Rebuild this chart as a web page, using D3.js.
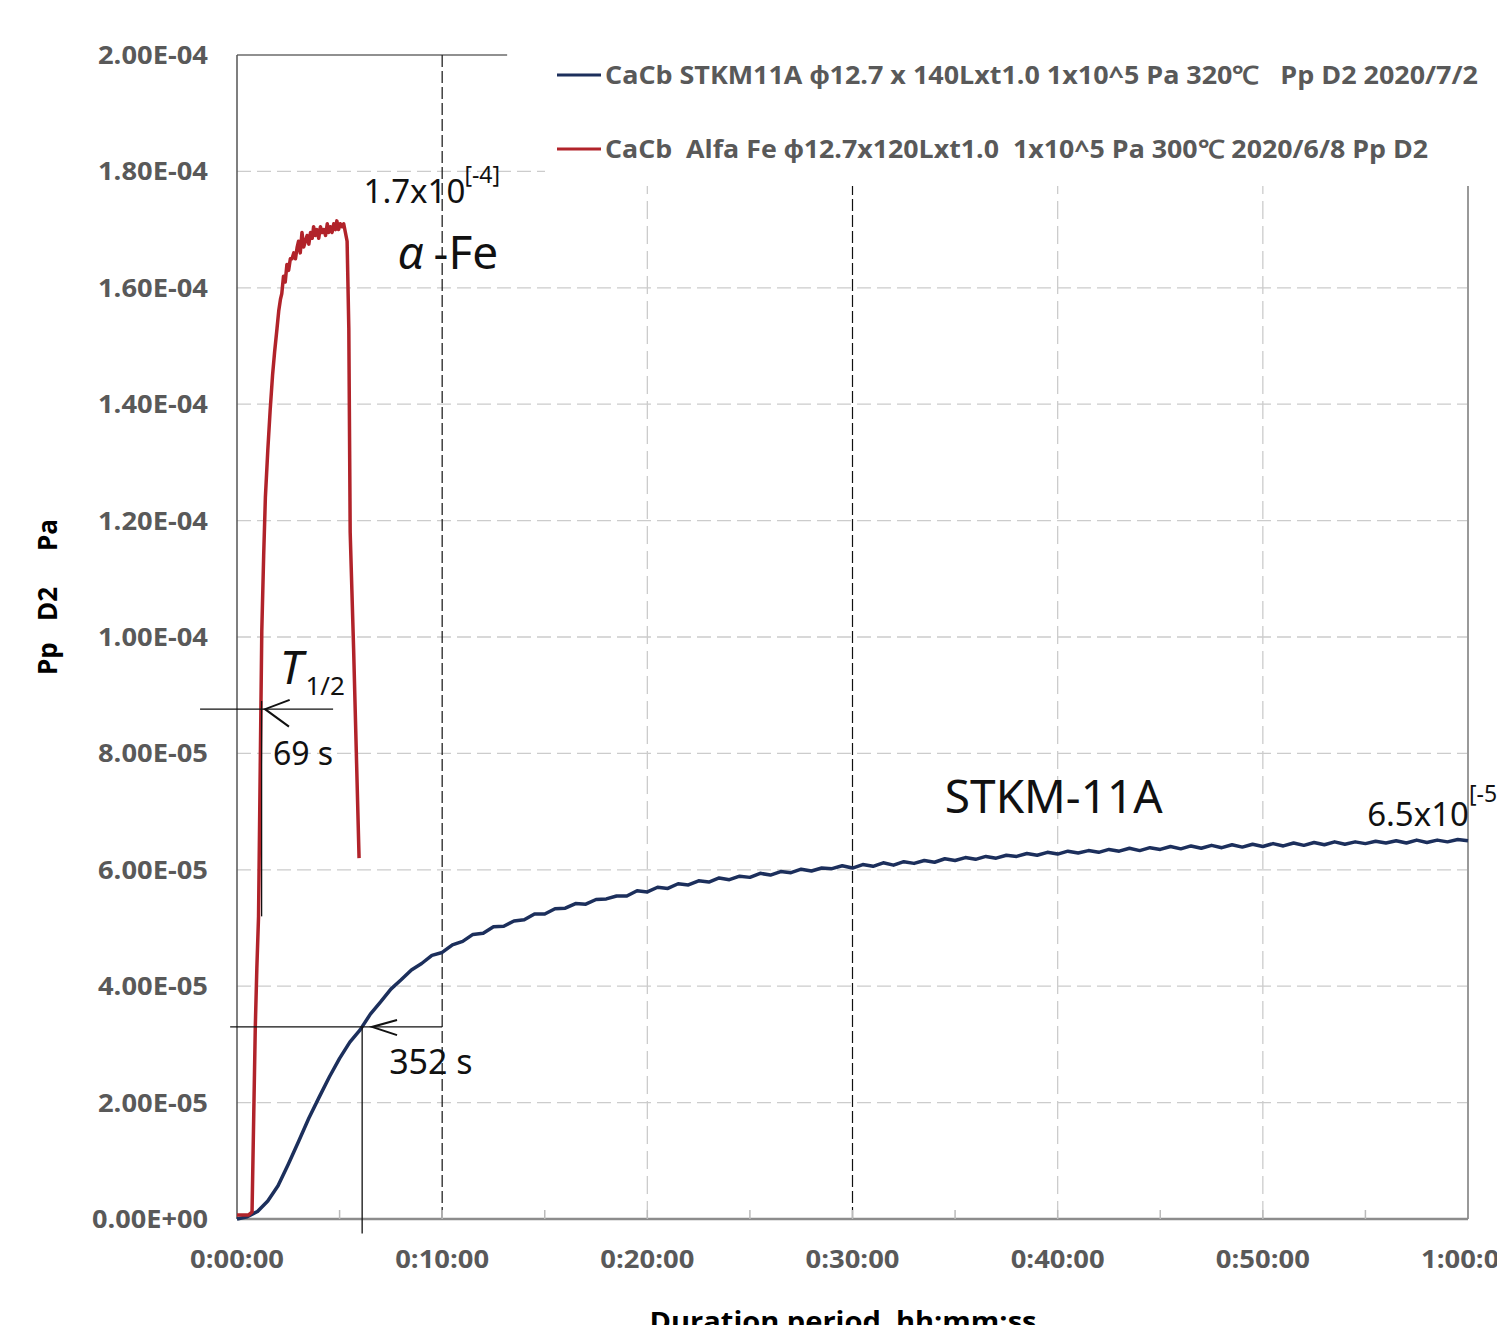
<!DOCTYPE html>
<html>
<head>
<meta charset="utf-8">
<script src="https://d3js.org/d3.v7.min.js"></script>
<style>
  body { margin: 0; background: #fff; }
  svg { display: block; }
  text { white-space: pre; }
</style>
</head>
<body>
<div id="chart"></div>
<script>
// values are Pp D2 in units of 1e-5 Pa, time in seconds
const yTickValues = [0, 2, 4, 6, 8, 10, 12, 14, 16, 18, 20]
const yTickLabels = ['0.00E+00', '2.00E-05', '4.00E-05', '6.00E-05', '8.00E-05', '1.00E-04',
                     '1.20E-04', '1.40E-04', '1.60E-04', '1.80E-04', '2.00E-04']
const xTickValues = [0, 600, 1200, 1800, 2400, 3000, 3600]
const xTickLabels = ['0:00:00', '0:10:00', '0:20:00', '0:30:00', '0:40:00', '0:50:00', '1:00:00']
const xMinorTicks = [300, 600, 900, 1200, 1500, 1800, 2100, 2400, 2700, 3000, 3300]
const yTitleWords = ['Pp', 'D2', 'Pa']

const seriesNames = [
    'CaCb STKM11A \u03d512.7 x 140Lxt1.0 1x10^5 Pa 320\u2103   Pp D2 2020/7/2',
    'CaCb  Alfa Fe \u03d512.7x120Lxt1.0  1x10^5 Pa 300\u2103 2020/6/8 Pp D2'
]
const seriesColors = ['#1c2f5c', '#b1232a']

// STKM-11A  [t (s), Pp]
const stkmData = [
    [0,0.00],[30,0.04],[60,0.13],[90,0.31],[120,0.57],[150,0.94],[180,1.33],[210,1.73],[240,2.09],[270,2.44],
    [300,2.76],[330,3.04],[360,3.25],[390,3.52],[420,3.73],[450,3.95],[480,4.11],[510,4.28],[540,4.39],[570,4.53],
    [600,4.58],[630,4.71],[660,4.77],[690,4.89],[720,4.91],[750,5.02],[780,5.03],[810,5.12],[840,5.14],[870,5.24],
    [900,5.24],[930,5.33],[960,5.34],[990,5.42],[1020,5.41],[1050,5.49],[1080,5.50],[1110,5.55],[1140,5.55],[1170,5.64],
    [1200,5.62],[1230,5.70],[1260,5.68],[1290,5.76],[1320,5.74],[1350,5.81],[1380,5.79],[1410,5.86],[1440,5.83],[1470,5.89],
    [1500,5.87],[1530,5.94],[1560,5.91],[1590,5.97],[1620,5.95],[1650,6.01],[1680,5.98],[1710,6.03],[1740,6.02],[1770,6.07],
    [1800,6.03],[1830,6.09],[1860,6.06],[1890,6.12],[1920,6.08],[1950,6.14],[1980,6.11],[2010,6.16],[2040,6.13],[2070,6.19],
    [2100,6.16],[2130,6.21],[2160,6.18],[2190,6.23],[2220,6.20],[2250,6.25],[2280,6.23],[2310,6.28],[2340,6.25],[2370,6.30],
    [2400,6.27],[2430,6.32],[2460,6.29],[2490,6.33],[2520,6.30],[2550,6.35],[2580,6.32],[2610,6.37],[2640,6.33],[2670,6.38],
    [2700,6.35],[2730,6.40],[2760,6.36],[2790,6.41],[2820,6.37],[2850,6.42],[2880,6.38],[2910,6.43],[2940,6.39],[2970,6.44],
    [3000,6.40],[3030,6.45],[3060,6.41],[3090,6.46],[3120,6.42],[3150,6.47],[3180,6.43],[3210,6.48],[3240,6.44],[3270,6.48],
    [3300,6.45],[3330,6.49],[3360,6.46],[3390,6.50],[3420,6.46],[3450,6.51],[3480,6.47],[3510,6.51],[3540,6.48],[3570,6.52],
    [3600,6.50]
]

// alpha-Fe  [t (s), Pp]
const feData = [
    [0,0.07],[20,0.07],[34,0.07],[44,0.12],[49,1.8],[53.5,3.3],[58,4.3],[63,5.2],[68,7.8],[72.5,10.1],
    [78,11.4],[83,12.4],[90,13.2],[97,13.9],[104,14.5],[110,14.9],[117,15.3],[122,15.6],[127,15.8],[131,15.9],
    [136,16.2],[141,16.1],[146,16.4],[151,16.3],[156,16.5],[161,16.5],[166,16.6],[171,16.5],[176,16.7],[180,16.8],
    [185,16.6],[190,16.95],[195,16.7],[200,16.8],[205,16.9],[210,16.75],[215,16.95],[220,16.85],[224,17.05],[229,16.9],
    [234,17.0],[239,16.85],[244,17.05],[249,16.95],[254,17.0],[259,16.9],[264,17.1],[268,16.95],[273,17.05],[278,16.95],
    [283,17.1],[288,17.0],[292,17.15],[297,17.0],[302,17.1],[307,17.05],[312,17.1],[317,16.95],[322,16.8],[327,15.3],
    [331,11.8],[336,10.8],[341,9.8],[349,8.0],[357,6.2]
]

const W = 1497, H = 1325
const svg = d3.select('#chart').append('svg').attr('width', W).attr('height', H)

const xs = d3.scaleLinear().domain([0, 3600]).range([237, 1468])
const ys = d3.scaleLinear().domain([0, 20]).range([1219, 55])

// horizontal gridlines
svg.append('g').selectAll('line')
    .data(yTickValues.filter(v => v > 0 && v < 20))
    .enter().append('line')
    .attr('x1', xs(0)).attr('x2', xs(3600))
    .attr('y1', d => ys(d)).attr('y2', d => ys(d))
    .attr('stroke', '#cccccc').attr('stroke-width', 1.3)
    .attr('stroke-dasharray', '14,6')

// vertical gray gridlines
svg.append('g').selectAll('line')
    .data([1200, 2400, 3000])
    .enter().append('line')
    .attr('x1', d => xs(d)).attr('x2', d => xs(d))
    .attr('y1', ys(0)).attr('y2', ys(20))
    .attr('stroke', '#cccccc').attr('stroke-width', 1.3)
    .attr('stroke-dasharray', '18,7')

// black dashed verticals at 10 and 30 min
svg.append('g').selectAll('line')
    .data([600, 1800])
    .enter().append('line')
    .attr('x1', d => xs(d)).attr('x2', d => xs(d))
    .attr('y1', ys(0)).attr('y2', ys(20))
    .attr('stroke', '#111').attr('stroke-width', 1.2)
    .attr('stroke-dasharray', '12,4')

// top frame piece
svg.append('line')
    .attr('x1', xs(0)).attr('x2', xs(790))
    .attr('y1', ys(20)).attr('y2', ys(20))
    .attr('stroke', '#222').attr('stroke-width', 1.2)

// right border
svg.append('line')
    .attr('x1', xs(3600)).attr('x2', xs(3600))
    .attr('y1', ys(0)).attr('y2', 186)
    .attr('stroke', '#999').attr('stroke-width', 2)

// x axis line and minor ticks
svg.append('line')
    .attr('x1', xs(0)).attr('x2', xs(3600))
    .attr('y1', ys(0)).attr('y2', ys(0))
    .attr('stroke', '#8c8c8c').attr('stroke-width', 2.5)
svg.append('g').selectAll('line')
    .data(xMinorTicks)
    .enter().append('line')
    .attr('x1', d => xs(d)).attr('x2', d => xs(d))
    .attr('y1', ys(0)).attr('y2', ys(0) - 9)
    .attr('stroke', '#bbb').attr('stroke-width', 1.5)

// y axis line
svg.append('line')
    .attr('x1', xs(0)).attr('x2', xs(0))
    .attr('y1', ys(0)).attr('y2', ys(20))
    .attr('stroke', '#555').attr('stroke-width', 1.5)

// tick labels
svg.append('g').selectAll('text')
    .data(yTickValues)
    .enter().append('text')
    .attr('x', 208).attr('y', d => ys(d) + 9)
    .attr('text-anchor', 'end')
    .attr('textLength', (d, i) => i === 0 ? 116 : 110).attr('lengthAdjust', 'spacingAndGlyphs')
    .style('font', 'bold 25px "Open Sans", sans-serif')
    .attr('fill', '#595959')
    .text((d, i) => yTickLabels[i])

svg.append('g').selectAll('text')
    .data(xTickValues)
    .enter().append('text')
    .attr('x', d => xs(d)).attr('y', 1268)
    .attr('text-anchor', 'middle')
    .attr('textLength', 94).attr('lengthAdjust', 'spacingAndGlyphs')
    .style('font', 'bold 25px "Open Sans", sans-serif')
    .attr('fill', '#595959')
    .text((d, i) => xTickLabels[i])

// axis titles
const yTitle = svg.append('text')
    .attr('transform', 'translate(57,0) rotate(-90)')
    .style('font', 'bold 26px "Open Sans", sans-serif')
    .attr('fill', '#000')
const yTitlePos = [-675, -621, -551]
yTitleWords.forEach(function(w, i) {
    yTitle.append('tspan').attr('x', yTitlePos[i]).attr('y', 0).text(w)
})

svg.append('text')
    .attr('x', 843).attr('y', 1331)
    .attr('text-anchor', 'middle')
    .attr('textLength', 387).attr('lengthAdjust', 'spacingAndGlyphs')
    .style('font', 'bold 26px "Open Sans", sans-serif')
    .attr('fill', '#000')
    .text('Duration period  hh:mm:ss')

// data lines
const line = d3.line().x(d => xs(d[0])).y(d => ys(d[1]))

svg.append('path').datum(stkmData)
    .attr('d', line)
    .attr('fill', 'none').attr('stroke', seriesColors[0]).attr('stroke-width', 3.5)
    .attr('stroke-linejoin', 'round')

svg.append('path').datum(feData)
    .attr('d', line)
    .attr('fill', 'none').attr('stroke', seriesColors[1]).attr('stroke-width', 3.5)
    .attr('stroke-linejoin', 'round')

// legend
const legend = svg.append('g')
legend.append('rect')
    .attr('x', 545).attr('y', 36).attr('width', W - 545).attr('height', 150)
    .attr('fill', '#fff')
const legendY = [75, 149]
const legendW = [873, 823]
seriesNames.forEach(function(name, i) {
    legend.append('line')
        .attr('x1', 557).attr('x2', 601)
        .attr('y1', legendY[i]).attr('y2', legendY[i])
        .attr('stroke', seriesColors[i]).attr('stroke-width', 3)
    legend.append('text')
        .attr('x', 605).attr('y', legendY[i] + 9)
        .attr('textLength', legendW[i]).attr('lengthAdjust', 'spacingAndGlyphs')
        .style('font', 'bold 25px "Open Sans", sans-serif')
        .attr('fill', '#595959')
        .text(name)
})

// annotations
const ann = svg.append('g').attr('stroke', '#111').attr('stroke-width', 1.3).attr('fill', 'none')

// T1/2 of alpha-Fe
ann.append('line').attr('x1', xs(-108)).attr('x2', xs(281)).attr('y1', ys(8.76)).attr('y2', ys(8.76))
ann.append('line').attr('x1', xs(72)).attr('x2', xs(72)).attr('y1', ys(8.9)).attr('y2', ys(5.2))
ann.append('path')
    .attr('d', 'M' + xs(154) + ',' + ys(8.92) + 'L' + xs(82) + ',' + ys(8.76) + 'L' + xs(152) + ',' + ys(8.46))
    .attr('stroke-width', 2)

// T1/2 of STKM-11A
ann.append('line').attr('x1', xs(-20)).attr('x2', xs(600)).attr('y1', ys(3.3)).attr('y2', ys(3.3))
ann.append('line').attr('x1', xs(366)).attr('x2', xs(366)).attr('y1', ys(3.3)).attr('y2', ys(-0.25))
ann.append('path')
    .attr('d', 'M' + xs(468) + ',' + ys(3.42) + 'L' + xs(395) + ',' + ys(3.3) + 'L' + xs(468) + ',' + ys(3.16))
    .attr('stroke-width', 2)

const annFont = '"Noto Sans", "Open Sans", sans-serif'
function addText(x, y, size, txt, style) {
    return svg.append('text').attr('x', x).attr('y', y)
        .style('font-family', annFont).style('font-size', size + 'px')
        .style('font-style', style || 'normal')
        .attr('fill', '#111').text(txt)
}

// T1/2 label
addText(xs(125), ys(9.2), 46, 'T', 'italic')
addText(xs(200), ys(9.0), 26, '1/2')
addText(xs(105), ys(7.8), 32, '69 s')
addText(xs(445), ys(2.5), 34, '352 s')

// alpha-Fe labels
addText(xs(370), ys(17.45), 33, '1.7x10')
addText(xs(665), ys(17.8), 23, '[-4]')
addText(xs(470), ys(16.32), 46, '\u03b1', 'italic')
addText(xs(575), ys(16.32), 46, '-Fe')

// STKM labels
addText(xs(2070), ys(6.97), 46, 'STKM-11A')
addText(xs(3305), ys(6.76), 33, '6.5x10')
addText(xs(3603), ys(7.16), 23, '[-5]')
</script>
</body>
</html>
